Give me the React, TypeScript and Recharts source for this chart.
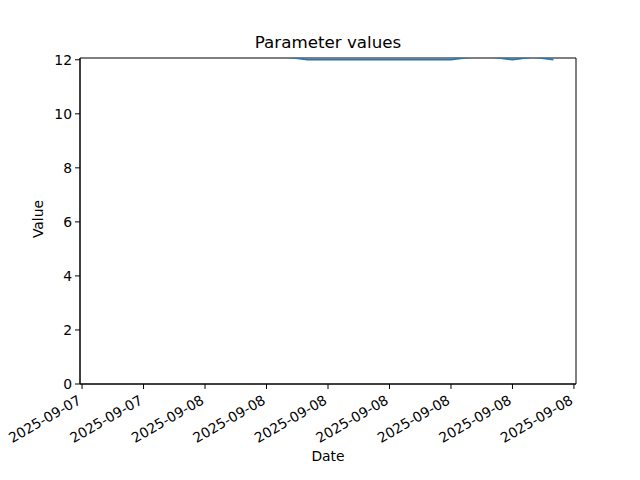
import { Line, LineChart, XAxis, YAxis, ReferenceArea } from "recharts";

// hourly readings, 2025-09-07 19:00 .. 2025-09-08 17:00 (UTC)
const times = [
  "2025-09-07T19:00:00Z", "2025-09-07T20:00:00Z", "2025-09-07T21:00:00Z", "2025-09-07T22:00:00Z",
  "2025-09-07T23:00:00Z", "2025-09-08T00:00:00Z", "2025-09-08T01:00:00Z", "2025-09-08T02:00:00Z",
  "2025-09-08T03:00:00Z", "2025-09-08T04:00:00Z", "2025-09-08T05:00:00Z", "2025-09-08T06:00:00Z",
  "2025-09-08T07:00:00Z", "2025-09-08T08:00:00Z", "2025-09-08T09:00:00Z", "2025-09-08T10:00:00Z",
  "2025-09-08T11:00:00Z", "2025-09-08T12:00:00Z", "2025-09-08T13:00:00Z", "2025-09-08T14:00:00Z",
  "2025-09-08T15:00:00Z", "2025-09-08T16:00:00Z", "2025-09-08T17:00:00Z",
];
const values = [
  12.1, 12.1, 12.1, 12.1, 12.1, 12.1, 12.1, 12.1, 12.1, 12.1,
  12.0, 12.0, 12.0, 12.0, 12.0, 12.0, 12.0, 12.0,
  12.1, 12.1, 12.0, 12.1, 12.0,
];
const tickTimes = [
  "2025-09-07T18:00:00Z", "2025-09-07T21:00:00Z", "2025-09-08T00:00:00Z",
  "2025-09-08T03:00:00Z", "2025-09-08T06:00:00Z", "2025-09-08T09:00:00Z",
  "2025-09-08T12:00:00Z", "2025-09-08T15:00:00Z", "2025-09-08T18:00:00Z",
];
const yTicks = [0, 2, 4, 6, 8, 10, 12];

const data = times.map((t, i) => ({ t: Date.parse(t), value: values[i] }));
const xTicks = tickTimes.map((t) => Date.parse(t));
const t0 = data[0].t;
const t1 = data[data.length - 1].t;
const pad = (t1 - t0) * 0.05;
const xDomain = [t0 - pad, t1 + pad];
const yDomain = [0, 12.065];

const FONT = "DejaVu Sans, sans-serif";

function DateTick(props: any) {
  const { x, y, payload } = props;
  const label = new Date(payload.value).toISOString().slice(0, 10);
  return (
    <g transform={`translate(${x},${y + 12})`}>
      <text x={0} y={0} textAnchor="end" transform="rotate(-30)" fontSize={13.9} fill="#000" fontFamily={FONT}>
        {label}
      </text>
    </g>
  );
}

export default function App() {
  return (
    <div style={{ position: "absolute", left: 0, top: 0, width: 640, height: 480, background: "#fff", fontFamily: FONT }}>
      <div style={{ position: "absolute", left: 0, top: 32, width: 656, textAlign: "center", fontSize: 16.7 }}>
        Parameter values
      </div>
      <div
        style={{
          position: "absolute",
          left: 38 - 40,
          top: 221 - 10,
          width: 80,
          textAlign: "center",
          fontSize: 13.9,
          transform: "rotate(-90deg)",
        }}
      >
        Value
      </div>
      <div style={{ position: "absolute", left: 0, top: 448, width: 656, textAlign: "center", fontSize: 13.9 }}>
        Date
      </div>
      <LineChart width={640} height={480} data={data} margin={{ top: 58, right: 64, bottom: 0, left: 0 }}>
        <ReferenceArea
          x1={xDomain[0]}
          x2={xDomain[1]}
          y1={yDomain[0]}
          y2={yDomain[1]}
          fill="none"
          fillOpacity={0}
          stroke="#000"
          strokeWidth={1}
          ifOverflow="visible"
        />
        <XAxis
          dataKey="t"
          type="number"
          scale="time"
          domain={xDomain}
          ticks={xTicks}
          tick={<DateTick />}
          tickSize={5}
          tickLine={{ stroke: "#000" }}
          axisLine={{ stroke: "#000" }}
          height={96}
          interval={0}
          allowDataOverflow
        />
        <YAxis
          domain={yDomain}
          ticks={yTicks}
          allowDataOverflow
          width={80}
          tickSize={5}
          tickMargin={3}
          tickLine={{ stroke: "#000" }}
          axisLine={{ stroke: "#000" }}
          tick={{ fill: "#000", fontSize: 13.9, fontFamily: FONT }}
          interval={0}
        />
        <Line
          type="linear"
          dataKey="value"
          stroke="#1f77b4"
          strokeWidth={1.6}
          dot={false}
          isAnimationActive={false}
        />
      </LineChart>
    </div>
  );
}
